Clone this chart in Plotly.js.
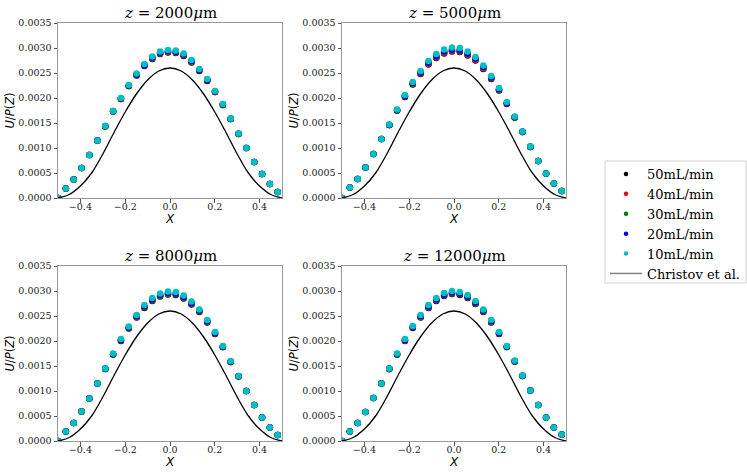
<!DOCTYPE html>
<html>
<head>
<meta charset="utf-8">
<script src="https://cdn.plot.ly/plotly-3.0.1.min.js"></script>
<style>
  html, body { margin: 0; padding: 0; background: #fff; }
  #chart { width: 747px; height: 474px; }
</style>
</head>
<body>
<div id="chart"></div>
<script>
// sample positions across the channel (same for every z)
const xPos = [-0.5, -0.465, -0.43, -0.395, -0.36, -0.324, -0.289, -0.254, -0.219, -0.184,
  -0.149, -0.114, -0.079, -0.044, -0.009, 0.026, 0.061, 0.096, 0.131, 0.166,
  0.201, 0.236, 0.271, 0.306, 0.341, 0.376, 0.411, 0.446, 0.481];

// z = 2000um
const z2000_50 = [0, 0.00019, 0.00037, 0.0006, 0.00086, 0.00115, 0.00143, 0.00173, 0.00198, 0.00224, 0.00245, 0.00264, 0.00278, 0.00288, 0.00291, 0.0029, 0.00284, 0.00271, 0.00254, 0.00234, 0.00212, 0.00186, 0.00158, 0.00128, 0.001, 0.00072, 0.00048, 0.00028, 0.00012];
const z2000_40 = [0, 0.00019, 0.00037, 0.0006, 0.00086, 0.00115, 0.00143, 0.00173, 0.00198, 0.00224, 0.00246, 0.00265, 0.00279, 0.00289, 0.00292, 0.00291, 0.00285, 0.00272, 0.00255, 0.00235, 0.00212, 0.00186, 0.00158, 0.00128, 0.001, 0.00072, 0.00048, 0.00028, 0.00012];
const z2000_30 = [0, 0.00019, 0.00037, 0.0006, 0.00086, 0.00115, 0.00143, 0.00173, 0.00199, 0.00224, 0.00247, 0.00266, 0.0028, 0.0029, 0.00293, 0.00292, 0.00286, 0.00273, 0.00256, 0.00236, 0.00213, 0.00187, 0.00158, 0.00128, 0.001, 0.00072, 0.00048, 0.00028, 0.00012];
const z2000_20 = [0, 0.00019, 0.00037, 0.0006, 0.00086, 0.00115, 0.00144, 0.00174, 0.00199, 0.00225, 0.00247, 0.00266, 0.00281, 0.00291, 0.00294, 0.00293, 0.00287, 0.00274, 0.00256, 0.00236, 0.00213, 0.00187, 0.00159, 0.00129, 0.001, 0.00072, 0.00048, 0.00028, 0.00012];
const z2000_10 = [0, 0.00019, 0.00037, 0.0006, 0.00086, 0.00115, 0.00144, 0.00174, 0.002, 0.00226, 0.00249, 0.00268, 0.00283, 0.00293, 0.00296, 0.00295, 0.00289, 0.00276, 0.00258, 0.00238, 0.00214, 0.00188, 0.00159, 0.00129, 0.001, 0.00072, 0.00048, 0.00028, 0.00012];

// z = 5000um
const z5000_50 = [0, 0.00021, 0.00038, 0.00061, 0.00088, 0.00118, 0.00146, 0.00175, 0.00202, 0.00227, 0.00248, 0.00267, 0.0028, 0.00289, 0.00293, 0.00292, 0.00285, 0.00275, 0.00258, 0.00238, 0.00215, 0.00188, 0.00161, 0.00132, 0.00102, 0.00074, 0.00049, 0.00029, 0.00014];
const z5000_40 = [0, 0.00021, 0.00038, 0.00061, 0.00088, 0.00118, 0.00146, 0.00175, 0.00203, 0.00228, 0.00249, 0.00268, 0.00281, 0.0029, 0.00294, 0.00293, 0.00286, 0.00276, 0.00259, 0.00239, 0.00216, 0.00189, 0.00161, 0.00132, 0.00102, 0.00074, 0.00049, 0.00029, 0.00014];
const z5000_30 = [0, 0.00021, 0.00038, 0.00061, 0.00088, 0.00118, 0.00146, 0.00175, 0.00204, 0.00229, 0.0025, 0.0027, 0.00283, 0.00292, 0.00296, 0.00295, 0.00288, 0.00278, 0.00261, 0.0024, 0.00217, 0.0019, 0.00161, 0.00132, 0.00102, 0.00074, 0.00049, 0.00029, 0.00014];
const z5000_20 = [0, 0.00021, 0.00038, 0.00061, 0.00088, 0.00118, 0.00146, 0.00176, 0.00204, 0.0023, 0.00251, 0.00271, 0.00284, 0.00293, 0.00297, 0.00296, 0.00289, 0.00279, 0.00262, 0.00241, 0.00218, 0.0019, 0.00162, 0.00133, 0.00103, 0.00074, 0.00049, 0.00029, 0.00014];
const z5000_10 = [0, 0.00021, 0.00038, 0.00061, 0.00088, 0.00118, 0.00147, 0.00177, 0.00206, 0.00232, 0.00254, 0.00274, 0.00288, 0.00297, 0.00301, 0.003, 0.00293, 0.00282, 0.00265, 0.00244, 0.0022, 0.00192, 0.00163, 0.00133, 0.00103, 0.00074, 0.00049, 0.00029, 0.00014];

// z = 8000um
const z8000_50 = [0, 0.00019, 0.00036, 0.00059, 0.00085, 0.00115, 0.00144, 0.00173, 0.002, 0.00225, 0.00247, 0.00266, 0.0028, 0.00289, 0.00293, 0.00292, 0.00285, 0.00273, 0.00258, 0.00237, 0.00214, 0.00188, 0.00158, 0.00129, 0.001, 0.00072, 0.00047, 0.00027, 0.00012];
const z8000_40 = [0, 0.00019, 0.00036, 0.00059, 0.00085, 0.00115, 0.00144, 0.00173, 0.00201, 0.00226, 0.00248, 0.00267, 0.00281, 0.0029, 0.00294, 0.00293, 0.00286, 0.00274, 0.00259, 0.00238, 0.00215, 0.00188, 0.00158, 0.00129, 0.001, 0.00072, 0.00047, 0.00027, 0.00012];
const z8000_30 = [0, 0.00019, 0.00036, 0.00059, 0.00085, 0.00115, 0.00144, 0.00173, 0.00202, 0.00227, 0.00249, 0.00268, 0.00282, 0.00291, 0.00295, 0.00294, 0.00287, 0.00275, 0.0026, 0.00239, 0.00216, 0.00188, 0.00158, 0.00129, 0.001, 0.00072, 0.00047, 0.00027, 0.00012];
const z8000_20 = [0, 0.00019, 0.00036, 0.00059, 0.00085, 0.00115, 0.00145, 0.00174, 0.00202, 0.00227, 0.0025, 0.00269, 0.00283, 0.00292, 0.00296, 0.00295, 0.00288, 0.00276, 0.00261, 0.0024, 0.00216, 0.00189, 0.00159, 0.0013, 0.001, 0.00072, 0.00047, 0.00027, 0.00012];
const z8000_10 = [0, 0.00019, 0.00036, 0.00059, 0.00085, 0.00115, 0.00145, 0.00175, 0.00204, 0.00229, 0.00252, 0.00272, 0.00286, 0.00295, 0.00299, 0.00298, 0.00291, 0.00279, 0.00263, 0.00242, 0.00218, 0.0019, 0.0016, 0.0013, 0.001, 0.00072, 0.00047, 0.00027, 0.00012];

// z = 12000um
const z12000_50 = [0, 0.00019, 0.00036, 0.00058, 0.00086, 0.00115, 0.00144, 0.00173, 0.002, 0.00226, 0.00247, 0.00266, 0.0028, 0.0029, 0.00294, 0.00292, 0.00286, 0.00274, 0.00258, 0.00237, 0.00214, 0.00188, 0.00159, 0.0013, 0.00101, 0.00072, 0.00047, 0.00027, 0.00013];
const z12000_40 = [0, 0.00019, 0.00036, 0.00058, 0.00086, 0.00115, 0.00144, 0.00173, 0.00201, 0.00227, 0.00248, 0.00267, 0.00281, 0.00291, 0.00295, 0.00293, 0.00287, 0.00275, 0.00259, 0.00238, 0.00215, 0.00188, 0.00159, 0.0013, 0.00101, 0.00072, 0.00047, 0.00027, 0.00013];
const z12000_30 = [0, 0.00019, 0.00036, 0.00058, 0.00086, 0.00115, 0.00144, 0.00173, 0.00202, 0.00228, 0.00249, 0.00268, 0.00282, 0.00292, 0.00296, 0.00294, 0.00288, 0.00276, 0.0026, 0.00239, 0.00216, 0.00188, 0.00159, 0.0013, 0.00101, 0.00072, 0.00047, 0.00027, 0.00013];
const z12000_20 = [0, 0.00019, 0.00036, 0.00058, 0.00086, 0.00115, 0.00145, 0.00174, 0.00202, 0.00228, 0.0025, 0.00269, 0.00283, 0.00293, 0.00297, 0.00295, 0.00289, 0.00277, 0.00261, 0.0024, 0.00216, 0.00189, 0.0016, 0.00131, 0.00101, 0.00072, 0.00047, 0.00027, 0.00013];
const z12000_10 = [0, 0.00019, 0.00036, 0.00058, 0.00086, 0.00115, 0.00145, 0.00175, 0.00204, 0.0023, 0.00252, 0.00272, 0.00286, 0.00296, 0.003, 0.00298, 0.00292, 0.0028, 0.00263, 0.00242, 0.00218, 0.0019, 0.00161, 0.00131, 0.00101, 0.00072, 0.00047, 0.00027, 0.00013];

// analytic reference profile
const christovX = [-0.5, -0.45, -0.4, -0.35, -0.3, -0.25, -0.2, -0.15, -0.1, -0.05, 0, 0.05, 0.1, 0.15, 0.2, 0.25, 0.3, 0.35, 0.4, 0.45, 0.5];
const christovU = [0, 0.00007, 0.00024, 0.0005, 0.00088, 0.00131, 0.00172, 0.00208, 0.00236, 0.00254, 0.0026, 0.00254, 0.00236, 0.00208, 0.00172, 0.00131, 0.00088, 0.0005, 0.00024, 0.00007, 0];

const flowNames = ["50mL/min", "40mL/min", "30mL/min", "20mL/min", "10mL/min"];
const flowColors = ["#000000", "#ff0000", "#008000", "#0000ff", "#00bfbf"];
const zLabels = ["2000", "5000", "8000", "12000"];

const panels = [
  {x: "x", y: "y", series: [z2000_50, z2000_40, z2000_30, z2000_20, z2000_10]},
  {x: "x2", y: "y2", series: [z5000_50, z5000_40, z5000_30, z5000_20, z5000_10]},
  {x: "x3", y: "y3", series: [z8000_50, z8000_40, z8000_30, z8000_20, z8000_10]},
  {x: "x4", y: "y4", series: [z12000_50, z12000_40, z12000_30, z12000_20, z12000_10]},
];

const W = 747, H = 474;
// plot boxes in pixels: [left, right, top, bottom]
const boxes = [[58, 282, 23, 198], [342, 566, 23, 198], [58, 282, 266, 441], [342, 566, 266, 441]];

const serif = "DejaVu Serif, serif";
const sans = "DejaVu Sans, sans-serif";

let data = [];
panels.forEach((p, i) => {
  p.series.forEach((ys, j) => {
    data.push({
      x: xPos, y: ys, xaxis: p.x, yaxis: p.y,
      type: "scatter", mode: "markers",
      name: flowNames[j], showlegend: false, hoverinfo: "x+y",
      marker: {color: flowColors[j], size: 6.5, line: {width: 0}},
    });
  });
  data.push({
    x: christovX, y: christovU, xaxis: p.x, yaxis: p.y,
    type: "scatter", mode: "lines",
    name: "Christov et al.", showlegend: false,
    line: {color: "#000", width: 1.3, shape: "spline", smoothing: 1},
  });
});

// legend-only entries (small dots, grey line like the reference legend)
flowNames.forEach((n, j) => {
  data.push({
    x: [null], y: [null], type: "scatter", mode: "markers", name: n,
    marker: {color: flowColors[j], size: 4.5}, showlegend: true,
  });
});
data.push({
  x: [null], y: [null], type: "scatter", mode: "lines", name: "Christov et al.",
  line: {color: "#808080", width: 1.5}, showlegend: true,
});

let layout = {
  width: W, height: H,
  margin: {l: 0, r: 0, t: 0, b: 0},
  paper_bgcolor: "#fff", plot_bgcolor: "#fff",
  showlegend: true,
  legend: {
    x: 605 / W, y: 1 - 159 / H, xanchor: "left", yanchor: "top",
    borderwidth: 0, bgcolor: "rgba(0,0,0,0)",
    font: {family: serif, size: 13, color: "#000"},
    tracegroupgap: 0, itemwidth: 32,
  },
  // legend frame
  shapes: [{
    type: "rect", xref: "paper", yref: "paper", layer: "below",
    x0: 605 / W, x1: 746 / W, y0: 1 - 283 / H, y1: 1 - 161 / H,
    line: {color: "#d0d0d0", width: 1}, fillcolor: "#fff",
  }],
  annotations: [],
};

boxes.forEach((b, i) => {
  const sfx = i == 0 ? "" : String(i + 1);
  layout["xaxis" + sfx] = {
    domain: [b[0] / W, b[1] / W], anchor: "y" + sfx,
    range: [-0.5, 0.5], dtick: 0.2, tick0: 0, tickformat: ".1f",
    showgrid: false, zeroline: false, showline: true, mirror: true,
    linecolor: "#999", linewidth: 1,
    ticks: "outside", ticklen: 3.5, tickcolor: "#555",
    ticklabelstandoff: -4,
    tickfont: {family: serif, size: 9.5, color: "#222"},
    title: {text: "<i>X</i>", font: {family: sans, size: 12, color: "#000"}, standoff: 0},
  };
  layout["yaxis" + sfx] = {
    domain: [1 - b[3] / H, 1 - b[2] / H], anchor: "x" + sfx,
    range: [0, 0.0035], dtick: 0.0005, tick0: 0, tickformat: ".4f",
    showgrid: false, zeroline: false, showline: true, mirror: true,
    linecolor: "#999", linewidth: 1,
    ticks: "outside", ticklen: 3.5, tickcolor: "#555",
    tickfont: {family: serif, size: 9.5, color: "#222"},
    title: {text: "<i>U</i>/<i>P</i>(<i>Z</i>)", font: {family: sans, size: 11.5, color: "#000"}, standoff: 1},
  };
  layout.annotations.push({
    text: "<i>z</i> = " + zLabels[i] + "<i>μ</i>m",
    xref: "paper", yref: "paper",
    x: (b[0] + b[1]) / 2 / W, y: 1 - (b[2] + 1) / H,
    xanchor: "center", yanchor: "bottom", showarrow: false,
    font: {family: serif, size: 15, color: "#000"},
  });
});

Plotly.newPlot("chart", data, layout, {displayModeBar: false, responsive: false});
</script>
</body>
</html>
